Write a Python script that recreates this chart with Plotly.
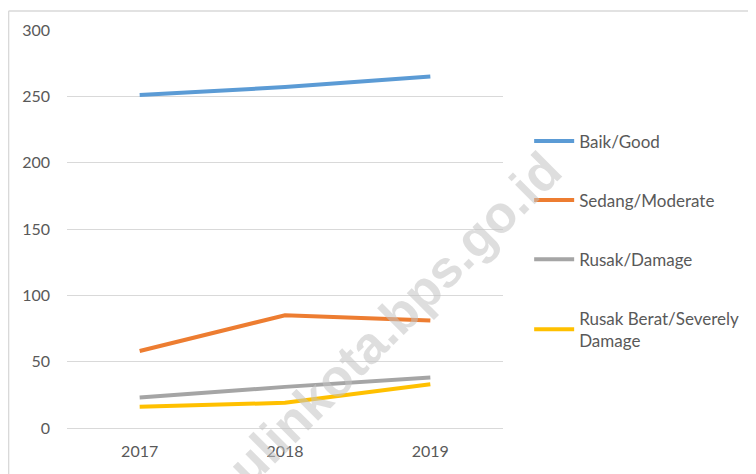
import plotly.graph_objects as go

years = ["2017", "2018", "2019"]
good = [251, 257, 265]
moderate = [58, 85, 81]
damage = [23, 31, 38]
severe = [16, 19, 33]

series_names = [
    "Baik/Good",
    "Sedang/Moderate",
    "Rusak/Damage",
    "Rusak Berat/Severely<br>Damage",
]
series_values = [good, moderate, damage, severe]
colours = ["#5b9bd5", "#ed7d31", "#a5a5a5", "#ffc000"]

FONT = "Lato, 'Liberation Sans', Arial, sans-serif"
TEXT = "#595959"

fig = go.Figure()
for i, (name, vals, colour) in enumerate(zip(series_names, series_values, colours)):
    fig.add_trace(go.Scatter(
        x=years,
        y=vals,
        mode="lines",
        name=name,
        legendgroup=f"g{i}",
        line=dict(color=colour, width=4),
    ))

# chart frame (only top and left edges are visible in the crop)
fig.add_shape(type="line", xref="paper", yref="paper",
              x0=-0.134, x1=1.6, y0=1.048, y1=1.048,
              line=dict(color="#d9d9d9", width=1.5))
fig.add_shape(type="line", xref="paper", yref="paper",
              x0=-0.134, x1=-0.134, y0=1.048, y1=-0.2,
              line=dict(color="#d9d9d9", width=1.5))

# watermark
fig.add_annotation(
    text="ulinkota.bps.go.id",
    xref="paper", yref="paper", x=0.75, y=0.275,
    xanchor="center", yanchor="middle",
    showarrow=False, textangle=-45,
    font=dict(family="Arial, 'Liberation Sans', sans-serif", size=52,
              color="rgba(195,195,195,0.55)", weight="bold"),
)

# page body adds an 8px margin, so the figure is 8px smaller than the window
fig.update_layout(
    width=748,
    height=466,
    margin=dict(l=59, r=253, t=20, b=46),
    paper_bgcolor="white",
    plot_bgcolor="white",
    font=dict(family=FONT, size=16, color=TEXT),
    showlegend=True,
    legend=dict(
        x=1.06, xanchor="left",
        y=0.47, yanchor="middle",
        traceorder="grouped",
        tracegroupgap=34,
        itemwidth=40,
        font=dict(family=FONT, size=17, color=TEXT),
        bgcolor="rgba(0,0,0,0)",
    ),
    xaxis=dict(
        type="category",
        range=[-0.5, 2.5],
        showgrid=False,
        showline=False,
        zeroline=False,
        ticks="",
        ticklabelstandoff=12,
    ),
    yaxis=dict(
        range=[0, 300],
        dtick=50,
        showgrid=True,
        gridcolor="#d9d9d9",
        gridwidth=1,
        zeroline=True,
        zerolinecolor="#d9d9d9",
        zerolinewidth=1,
        showline=False,
        ticks="",
        ticklabelstandoff=16,
    ),
)

fig.write_html("out.html")
